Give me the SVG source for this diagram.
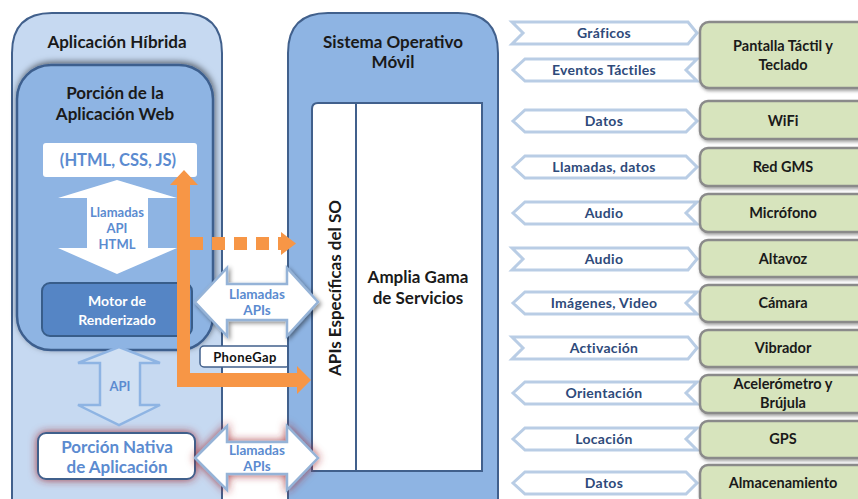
<svg xmlns="http://www.w3.org/2000/svg" width="858" height="499" viewBox="0 0 858 499">
<defs>
<style>
text{font-family:Lato,"Liberation Sans",sans-serif;text-anchor:middle}
.t{font-size:17px;font-weight:bold;fill:#1a1a1a}
.bl{font-weight:bold;fill:#5b8bd0}
.ch{fill:#fff;stroke:#b9cde5;stroke-width:3;stroke-linejoin:miter}
.cht{font-size:14px;font-weight:bold;fill:#2e4a7a;letter-spacing:0.3px}
.gb{fill:#d7e4bd;stroke:#8a8a8a;stroke-width:2.5}
.gt{font-size:14.5px;font-weight:bold;fill:#1a1a1a}
.or{fill:#f79646}
</style>
<filter id="sh" x="-20%" y="-20%" width="140%" height="140%"><feDropShadow dx="1" dy="-2" stdDeviation="3" flood-color="#000" flood-opacity="0.55"/></filter>
<filter id="sh2" x="-20%" y="-20%" width="140%" height="140%"><feDropShadow dx="2" dy="2" stdDeviation="2" flood-color="#000" flood-opacity="0.45"/></filter>
<filter id="gs" x="-20%" y="-20%" width="140%" height="140%"><feDropShadow dx="1" dy="2" stdDeviation="1.5" flood-color="#555" flood-opacity="0.5"/></filter>
<filter id="red" x="-30%" y="-30%" width="160%" height="160%"><feDropShadow dx="0" dy="0" stdDeviation="4" flood-color="#a0282a" flood-opacity="0.85"/></filter>
</defs>

<g id="hibrida">
<path d="M12,510 L12,53 Q12,13 52,13 L182,13 Q222,13 222,53 L222,510 Z" fill="#c6d9f1" stroke="#41608c" stroke-width="2"/>
<text class="t" x="117" y="48">Aplicación Híbrida</text>
</g>

<g id="web">
<rect x="17" y="65" width="196" height="285" rx="34" fill="#8eb4e3" stroke="#3d5f8e" stroke-width="2.5" filter="url(#sh)"/>
<text class="t" x="115" y="99">Porción de la</text>
<text class="t" x="115" y="120">Aplicación Web</text>
</g>

<g id="html">
<rect x="43" y="143" width="154" height="34" rx="3" fill="#fff"/>
<text class="bl" x="118" y="166" font-size="16.5">(HTML, CSS, JS)</text>
</g>

<g id="motor">
<rect x="42" y="283" width="150" height="53" rx="8" fill="#5585c5" stroke="#385d8a" stroke-width="2"/>
<text x="117" y="306" font-size="14" font-weight="bold" fill="#fff">Motor de</text>
<text x="117" y="325" font-size="14" font-weight="bold" fill="#fff">Renderizado</text>
</g>

<g id="nativa">
<rect x="38" y="433" width="157" height="46" rx="8" fill="#fff" stroke="#41608c" stroke-width="2" filter="url(#red)"/>
<text class="bl" x="117" y="453" font-size="17">Porción Nativa</text>
<text class="bl" x="117" y="473" font-size="17">de Aplicación</text>
</g>

<g id="phonegap">
<rect x="200" y="346" width="90" height="21" rx="4" fill="#fff" stroke="#41608c" stroke-width="1.5"/>
<text x="245" y="361.5" font-size="13" font-weight="bold" fill="#111" letter-spacing="0.4">PhoneGap</text>
</g>

<g id="sistema">
<path d="M288,510 L288,53 Q288,13 328,13 L458,13 Q498,13 498,53 L498,510 Z" fill="#8eb4e3" stroke="#41608c" stroke-width="2"/>
<text class="t" x="393" y="48">Sistema Operativo</text>
<text class="t" x="393" y="68">Móvil</text>
<path d="M312,471 L312,109 Q312,103 318,103 L482,103 L482,471 Z" fill="#fff" stroke="#41608c" stroke-width="2"/>
<line x1="356" y1="103" x2="356" y2="471" stroke="#41608c" stroke-width="2"/>
<text class="t" transform="translate(341,288) rotate(-90)" font-size="17.5">APIs Específicas del SO</text>
<text class="t" x="418" y="283">Amplia Gama</text>
<text class="t" x="418" y="304">de Servicios</text>
</g>

<g id="connectors">
<path d="M117,180 L177,198 L148,198 L148,248 L177,248 L117,274 L58,248 L87,248 L87,198 L58,198 Z" fill="#fff"/>
<text class="bl" x="117" y="217" font-size="13">Llamadas</text>
<text class="bl" x="117" y="233" font-size="13">API</text>
<text class="bl" x="117" y="249" font-size="13">HTML</text>

<path d="M119,347 L160,363 L140,363 L140,405 L160,405 L119,425 L78,405 L100,405 L100,363 L78,363 Z" fill="#d0e0f3" stroke="#8eb4e3" stroke-width="2.5" stroke-linejoin="miter"/>
<text class="bl" x="120" y="391" font-size="13">API</text>

<path d="M195,302 L227,268 L227,284 L287,284 L287,268 L318,302 L287,336 L287,320 L227,320 L227,336 Z" fill="#fff" stroke="#95b3d7" stroke-width="2.5" filter="url(#sh2)"/>
<text class="bl" x="257" y="299" font-size="13.5">Llamadas</text>
<text class="bl" x="257" y="315" font-size="13.5">APIs</text>

<path d="M195,458 L227,426 L227,442 L287,442 L287,426 L318,458 L287,490 L287,474 L227,474 L227,490 Z" fill="#fff" stroke="#95b3d7" stroke-width="2.5" filter="url(#red)"/>
<text class="bl" x="257" y="455" font-size="13.5">Llamadas</text>
<text class="bl" x="257" y="471" font-size="13.5">APIs</text>

<path class="or" d="M177,387 L177,185 L170,185 L184,170 L198,185 L190,185 L190,373 L297,373 L297,366 L311,380 L297,394 L297,387 Z"/>
<line x1="190" y1="243.5" x2="282" y2="243.5" stroke="#f79646" stroke-width="13" stroke-dasharray="13 9"/>
<path class="or" d="M281,232 L296,243.5 L281,255 Z"/>

<path class="ch" d="M512,22 L688,22 L697,33 L688,44 L512,44 L523,33 Z"/>
<text class="cht" x="604" y="38">Gráficos</text>
<path class="ch" d="M513,70 L525,59 L697,59 L686,70 L697,81 L525,81 Z"/>
<text class="cht" x="604" y="75">Eventos Táctiles</text>
<path class="ch" d="M513,121 L525,110 L686,110 L697,121 L686,132 L525,132 Z"/>
<text class="cht" x="604" y="126">Datos</text>
<path class="ch" d="M513,167 L525,156 L686,156 L697,167 L686,178 L525,178 Z"/>
<text class="cht" x="604" y="172">Llamadas, datos</text>
<path class="ch" d="M513,213 L525,202 L697,202 L686,213 L697,224 L525,224 Z"/>
<text class="cht" x="604" y="218">Audio</text>
<path class="ch" d="M512,248 L688,248 L697,259 L688,270 L512,270 L523,259 Z"/>
<text class="cht" x="604" y="264">Audio</text>
<path class="ch" d="M513,303 L525,292 L697,292 L686,303 L697,314 L525,314 Z"/>
<text class="cht" x="604" y="308">Imágenes, Video</text>
<path class="ch" d="M512,337 L688,337 L697,348 L688,359 L512,359 L523,348 Z"/>
<text class="cht" x="604" y="353">Activación</text>
<path class="ch" d="M513,393 L525,382 L697,382 L686,393 L697,404 L525,404 Z"/>
<text class="cht" x="604" y="398">Orientación</text>
<path class="ch" d="M513,439 L525,428 L697,428 L686,439 L697,450 L525,450 Z"/>
<text class="cht" x="604" y="444">Locación</text>
<path class="ch" d="M513,483 L525,472 L686,472 L697,483 L686,494 L525,494 Z"/>
<text class="cht" x="604" y="488">Datos</text>
</g>

<g id="pantalla"><rect class="gb" x="700" y="22" width="170" height="66" rx="9" filter="url(#gs)"/><text class="gt" x="783" y="51">Pantalla Táctil y</text><text class="gt" x="783" y="70">Teclado</text></g>
<g id="wifi"><rect class="gb" x="700" y="101" width="170" height="38" rx="8" filter="url(#gs)"/><text class="gt" x="783" y="126">WiFi</text></g>
<g id="gms"><rect class="gb" x="700" y="148" width="170" height="38" rx="8" filter="url(#gs)"/><text class="gt" x="783" y="172">Red GMS</text></g>
<g id="microfono"><rect class="gb" x="700" y="194" width="170" height="38" rx="8" filter="url(#gs)"/><text class="gt" x="783" y="218">Micrófono</text></g>
<g id="altavoz"><rect class="gb" x="700" y="240" width="170" height="37" rx="8" filter="url(#gs)"/><text class="gt" x="783" y="264">Altavoz</text></g>
<g id="camara"><rect class="gb" x="700" y="285" width="170" height="37" rx="8" filter="url(#gs)"/><text class="gt" x="783" y="308">Cámara</text></g>
<g id="vibrador"><rect class="gb" x="700" y="330" width="170" height="37" rx="8" filter="url(#gs)"/><text class="gt" x="783" y="353">Vibrador</text></g>
<g id="acelerometro"><rect class="gb" x="700" y="375" width="170" height="38" rx="8" filter="url(#gs)"/><text class="gt" x="783" y="389">Acelerómetro y</text><text class="gt" x="783" y="408">Brújula</text></g>
<g id="gps"><rect class="gb" x="700" y="421" width="170" height="37" rx="8" filter="url(#gs)"/><text class="gt" x="783" y="444">GPS</text></g>
<g id="almacenamiento"><rect class="gb" x="700" y="465" width="170" height="40" rx="8" filter="url(#gs)"/><text class="gt" x="783" y="488">Almacenamiento</text></g>
</svg>
